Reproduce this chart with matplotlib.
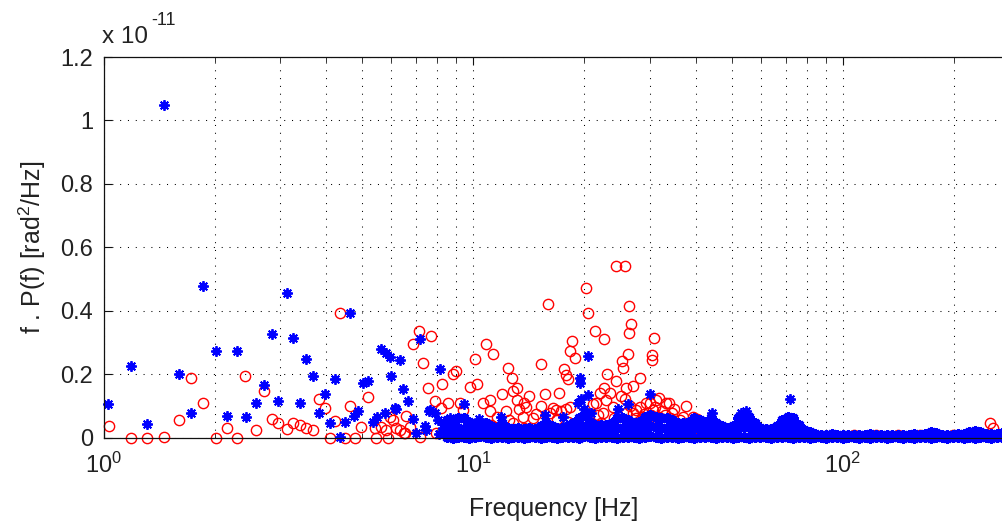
import matplotlib
matplotlib.use("Agg")
import matplotlib.pyplot as plt
from matplotlib.ticker import FuncFormatter, LogLocator, NullFormatter

plt.rcParams['font.family'] = ['Liberation Sans', 'DejaVu Sans']

SCALE = 1e-11  # values below are in units of 1e-11 rad^2/Hz

# ---- sparse points ----
blue_f = [1.03, 1.184, 1.313, 1.457, 1.6, 1.73, 1.86, 2.01, 2.16, 2.30,
          2.43, 2.58, 2.72, 2.85, 2.97, 3.13, 3.26, 3.39, 3.54, 3.69,
          3.82, 3.97, 4.09, 4.22, 4.35, 4.49, 4.64, 4.77, 4.89, 5.04,
          5.2, 5.36, 5.49, 5.63, 5.77, 5.8, 5.95, 6.0, 6.19, 6.33,
          6.47, 6.65, 6.87, 7.0, 7.17, 7.39, 7.61, 7.88, 8.13, 8.66,
          9.46, 10.4, 11.9, 15.6, 17.5, 19.2, 19.4, 19.5, 19.6, 20.0,
          20.4, 20.4, 20.8, 24.6, 26.2, 30.0, 44.4, 53.0, 54.7, 72.0,
          7.63, 8.03, 8.28, 8.35, 7.45, 8.1, 6.13]
blue_v = [0.105, 0.226, 0.043, 1.05, 0.2, 0.078, 0.478, 0.274, 0.069, 0.274,
          0.064, 0.11, 0.164, 0.326, 0.115, 0.457, 0.315, 0.11, 0.247, 0.194,
          0.078, 0.136, 0.047, 0.184, 0.003, 0.05, 0.394, 0.068, 0.082, 0.173,
          0.178, 0.05, 0.066, 0.278, 0.076, 0.266, 0.253, 0.194, 0.089, 0.243,
          0.152, 0.115, 0.057, 0.015, 0.31, 0.036, 0.084, 0.078, 0.215, 0.063,
          0.105, 0.058, 0.066, 0.071, 0.066, 0.109, 0.171, 0.189, 0.12, 0.09,
          0.257, 0.134, 0.076, 0.089, 0.105, 0.136, 0.078, 0.076, 0.084, 0.12,
          0.087, 0.055, 0.029, 0.045, 0.025, 0.01, 0.092]

red_f = [1.035, 1.184, 1.313, 1.457, 1.6, 1.73, 1.86, 2.01, 2.16, 2.30,
         2.42, 2.58, 2.72, 2.85, 2.97, 3.13, 3.26, 3.39, 3.54, 3.69,
         3.83, 3.97, 4.09, 4.22, 4.36, 4.49, 4.63, 4.8, 4.98, 5.2,
         5.42, 5.47, 5.63, 5.89, 5.95, 6.19, 6.52, 6.6, 6.73, 6.87,
         7.13, 7.17, 7.3, 7.55, 7.69, 7.88, 7.94, 8.18, 8.26, 8.54,
         8.8, 9.0, 9.0, 9.2, 9.37, 9.78, 10.1, 10.26, 10.6, 10.86,
         11.1, 11.1, 11.3, 12.0, 12.3, 12.4, 12.5, 12.7, 12.8, 13.1,
         13.1, 13.3, 13.6, 13.7, 13.9, 14.2, 14.8, 15.3, 15.3, 15.6,
         15.9, 16.1, 16.4, 16.7, 17.1, 17.3, 17.6, 17.8, 17.8, 18.0,
         18.3, 18.3, 18.5, 18.8, 20.2, 20.4, 21.1, 21.3, 21.5, 22.0,
         22.4, 22.6, 22.6, 22.9, 23.0, 23.4, 23.9, 24.4, 24.4, 25.1,
         25.3, 25.4, 25.7, 25.7, 25.9, 25.9, 26.2, 26.4, 26.4, 26.7,
         27.0, 27.0, 27.6, 28.2, 28.2, 28.8, 29.4, 30.0, 30.0, 30.4,
         30.4, 30.6, 30.9, 31.2, 31.9, 31.9, 33.3, 33.9, 34.6, 36.2,
         36.9, 37.7, 39.3, 40.2, 250.0, 255.0, 29.0, 31.0, 32.5, 33.0,
         35.0, 27.5, 30.2, 34.0, 24.0, 21.8, 26.5, 11.6, 14.5, 16.9,
         5.82, 6.06, 6.33, 6.5]
red_v = [0.036, 0.0, 0.0, 0.003, 0.055, 0.189, 0.108, 0.0, 0.031, 0.0,
         0.194, 0.024, 0.147, 0.057, 0.045, 0.027, 0.047, 0.039, 0.029, 0.024,
         0.12, 0.094, 0.0, 0.052, 0.394, 0.0, 0.1, 0.0, 0.034, 0.127,
         0.029, 0.0, 0.034, 0.0, 0.066, 0.029, 0.013, 0.068, 0.034, 0.294,
         0.336, 0.003, 0.236, 0.157, 0.32, 0.115, 0.013, 0.094, 0.168, 0.11,
         0.2, 0.21, 0.013, 0.11, 0.087, 0.16, 0.247, 0.168, 0.11, 0.294,
         0.118, 0.084, 0.263, 0.136, 0.084, 0.22, 0.055, 0.189, 0.147, 0.157,
         0.118, 0.089, 0.066, 0.11, 0.097, 0.131, 0.073, 0.231, 0.1, 0.136,
         0.42, 0.076, 0.094, 0.087, 0.141, 0.084, 0.215, 0.197, 0.089, 0.184,
         0.273, 0.097, 0.305, 0.25, 0.473, 0.394, 0.105, 0.336, 0.108, 0.14,
         0.076, 0.31, 0.157, 0.118, 0.2, 0.141, 0.097, 0.542, 0.178, 0.131,
         0.242, 0.218, 0.542, 0.12, 0.157, 0.076, 0.263, 0.415, 0.329, 0.357,
         0.163, 0.078, 0.087, 0.189, 0.097, 0.066, 0.108, 0.11, 0.055, 0.26,
         0.245, 0.087, 0.313, 0.118, 0.126, 0.066, 0.108, 0.11, 0.076, 0.055,
         0.066, 0.1, 0.066, 0.057, 0.047, 0.03, 0.075, 0.095, 0.085, 0.07,
         0.09, 0.06, 0.07, 0.06, 0.06, 0.07, 0.1, 0.065, 0.06, 0.058,
         0.024, 0.055, 0.024, 0.014]

# ---- dense band above ~8 Hz ----
band_f = [8.5, 8.8, 9.1, 9.42, 9.75, 10.09, 10.44, 10.8, 11.18, 11.57,
          11.97, 12.39, 12.82, 13.26, 13.72, 14.2, 14.7, 15.21, 15.74, 16.29,
          16.86, 17.44, 18.05, 18.68, 19.33, 20.0, 20.7, 21.42, 22.17, 22.94,
          23.74, 24.56, 25.42, 26.3, 27.22, 28.17, 29.15, 30.16, 31.21, 32.3,
          33.42, 34.59, 35.79, 37.04, 38.33, 39.66, 41.04, 42.47, 43.95, 45.48,
          47.06, 48.7, 50.4, 52.15, 53.97, 55.85, 57.79, 59.8, 61.88, 64.04,
          66.26, 68.57, 70.96, 73.43, 75.98, 78.63, 81.36, 84.2, 87.13, 90.16,
          93.3, 96.55, 99.91, 103.4, 107.0, 110.7, 114.6, 118.6, 122.7, 127.0,
          131.4, 136.0, 140.7, 145.6, 150.7, 155.9, 161.4, 167.0, 172.8, 178.8,
          185.0, 191.5, 198.2, 205.1, 212.2, 219.6, 227.3, 235.2, 243.4, 251.8,
          260.6, 269.7, 279.1]
blue_band_low = [0.002, 0.0, 0.003, 0.001, 0.0, 0.002, 0.004, 0.001, 0.0, 0.003,
                 0.002, 0.0, 0.001, 0.003, 0.0, 0.002, 0.001, 0.0, 0.003, 0.002,
                 0.0, 0.001, 0.003, 0.002, 0.0, 0.004, 0.001, 0.0, 0.002, 0.003,
                 0.001, 0.0, 0.002, 0.001, 0.003, 0.0, 0.002, 0.004, 0.001, 0.0,
                 0.002, 0.003, 0.0, 0.001, 0.002, 0.0, 0.003, 0.001, 0.002, 0.0,
                 0.001, 0.003, 0.0, 0.002, 0.001, 0.0, 0.002, 0.003, 0.001, 0.0,
                 0.002, 0.001, 0.003, 0.0, 0.002, 0.001, 0.0, 0.002, 0.001, 0.0,
                 0.001, 0.002, 0.0, 0.001, 0.002, 0.0, 0.001, 0.0, 0.002, 0.001,
                 0.0, 0.001, 0.002, 0.0, 0.001, 0.0, 0.002, 0.001, 0.0, 0.001,
                 0.002, 0.0, 0.001, 0.002, 0.0, 0.001, 0.0, 0.002, 0.001, 0.0,
                 0.001, 0.002, 0.0]
blue_band_mid = [0.03, 0.025, 0.03, 0.028, 0.025, 0.02, 0.022, 0.024, 0.018, 0.016,
                 0.022, 0.016, 0.014, 0.016, 0.014, 0.015, 0.014, 0.018, 0.022, 0.018,
                 0.015, 0.016, 0.018, 0.022, 0.03, 0.034, 0.026, 0.02, 0.02, 0.02,
                 0.022, 0.03, 0.03, 0.028, 0.024, 0.025, 0.032, 0.035, 0.032, 0.03,
                 0.03, 0.028, 0.024, 0.022, 0.025, 0.03, 0.028, 0.025, 0.03, 0.024,
                 0.018, 0.015, 0.018, 0.03, 0.035, 0.032, 0.022, 0.015, 0.014, 0.014,
                 0.018, 0.028, 0.032, 0.03, 0.02, 0.013, 0.009, 0.006, 0.005, 0.004,
                 0.005, 0.004, 0.004, 0.005, 0.004, 0.003, 0.005, 0.004, 0.005, 0.004,
                 0.003, 0.004, 0.005, 0.004, 0.004, 0.005, 0.004, 0.006, 0.008, 0.007,
                 0.005, 0.004, 0.004, 0.005, 0.006, 0.008, 0.01, 0.009, 0.006, 0.005,
                 0.006, 0.007, 0.006]
blue_band_top = [0.055, 0.055, 0.06, 0.062, 0.05, 0.039, 0.042, 0.046, 0.035, 0.03,
                 0.046, 0.03, 0.027, 0.03, 0.027, 0.03, 0.027, 0.035, 0.046, 0.035,
                 0.03, 0.03, 0.035, 0.045, 0.06, 0.07, 0.05, 0.04, 0.039, 0.039,
                 0.045, 0.062, 0.06, 0.055, 0.046, 0.05, 0.065, 0.07, 0.065, 0.06,
                 0.062, 0.055, 0.046, 0.045, 0.05, 0.06, 0.055, 0.05, 0.06, 0.046,
                 0.035, 0.03, 0.035, 0.06, 0.071, 0.065, 0.045, 0.03, 0.027, 0.027,
                 0.035, 0.055, 0.065, 0.06, 0.04, 0.025, 0.017, 0.012, 0.009, 0.008,
                 0.01, 0.008, 0.007, 0.008, 0.009, 0.007, 0.008, 0.01, 0.008, 0.007,
                 0.008, 0.009, 0.008, 0.007, 0.008, 0.01, 0.009, 0.012, 0.016, 0.014,
                 0.009, 0.008, 0.007, 0.01, 0.012, 0.016, 0.02, 0.018, 0.012, 0.01,
                 0.012, 0.014, 0.012]
# red band sits on every second band frequency
red_band = [0.03, 0.02, 0.035, 0.015, 0.04, 0.02, 0.045, 0.03, 0.02, 0.04,
            0.025, 0.05, 0.03, 0.02, 0.045, 0.035, 0.05, 0.03, 0.055, 0.04,
            0.045, 0.03, 0.04, 0.025, 0.03, 0.02, 0.025, 0.015, 0.02, 0.012,
            0.015, 0.01, 0.012, 0.008, 0.006, 0.007, 0.006, 0.008, 0.006, 0.007,
            0.006, 0.007, 0.006, 0.007, 0.008, 0.006, 0.007, 0.006, 0.008, 0.007,
            0.006, 0.007]

fig = plt.figure(figsize=(10.03, 5.29), dpi=100)
ax = fig.add_axes([103.5 / 1003, 91.5 / 529, 900 / 1003, 380.5 / 529])

star = (8, 2, 0)
red_style = dict(ls='none', marker='o', mfc='none', mec='#ff0000', ms=7.4, mew=1.0, clip_on=False)
blue_style = dict(ls='none', marker=star, color='#0000ff', mec='#0000ff', ms=7.6, mew=1.35, clip_on=False)
band_style = dict(blue_style, mew=2.2)

ax.plot(red_f, [v * SCALE for v in red_v], **red_style)
ax.plot(band_f[::2], [v * SCALE for v in red_band], **red_style)
for row in (blue_band_low, blue_band_mid, blue_band_top):
    ax.plot(band_f, [v * SCALE for v in row], **band_style)
ax.plot(blue_f, [v * SCALE for v in blue_v], **blue_style)

ax.set_xscale('log')
ax.set_xlim(1, 272)
ax.set_ylim(0, 1.2e-11)
ax.set_yticks([i * 0.2e-11 for i in range(7)])
ax.yaxis.set_major_formatter(FuncFormatter(lambda y, _: f"{y / SCALE:g}"))
ax.xaxis.set_major_locator(LogLocator(base=10))
ax.xaxis.set_minor_locator(LogLocator(base=10, subs=range(2, 10)))
ax.xaxis.set_minor_formatter(NullFormatter())

dots = (0, (1, 6.5))
ax.grid(True, axis='y', which='major', color='black', lw=0.75, ls=dots)
ax.grid(True, axis='x', which='both', color='black', lw=0.75, ls=dots)
ax.set_axisbelow(True)

for s in ('left', 'bottom', 'top'):
    ax.spines[s].set_linewidth(0.9)
    ax.spines[s].set_color('#111111')
ax.spines['right'].set_visible(False)

ax.tick_params(axis='both', which='both', direction='in', top=True, right=False,
               colors='#111111', labelcolor='#222222', labelsize=17)
ax.tick_params(axis='both', which='major', length=6)
ax.tick_params(axis='x', which='minor', length=3.5)
ax.tick_params(axis='y', pad=7.5)
ax.tick_params(axis='x', pad=11)

ax.set_xlabel('Frequency [Hz]', fontsize=18, color='#222222', va='center')
ax.xaxis.set_label_coords(0.5, -0.188)
ax.set_ylabel(r'f . P(f) [rad$\mathdefault{^{2}}$/Hz]', fontsize=18, color='#222222', va='center')
ax.yaxis.set_label_coords(-0.0795, 0.5)

# exponent label in the corner, as MATLAB prints it
fig.text(102 / 1003, 1 - 43 / 529, 'x 10', fontsize=17.5, color='#222222', va='baseline')
fig.text(151 / 1003, 1 - 25 / 529, '-11', fontsize=13, color='#222222', va='baseline')

fig.savefig('out.png', dpi=100)
